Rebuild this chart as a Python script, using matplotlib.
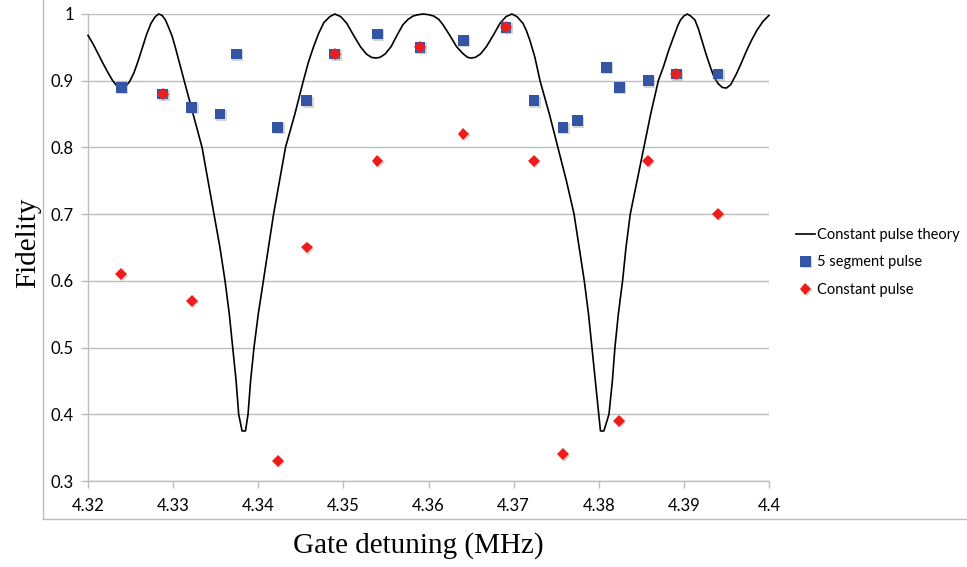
import matplotlib
matplotlib.use("Agg")
import matplotlib.pyplot as plt
import matplotlib.patheffects as pe
from matplotlib.lines import Line2D

# Theory curve for a constant pulse (detuning in MHz, fidelity)
theory_x = [4.3200, 4.3206, 4.3212, 4.3218, 4.3224, 4.3229, 4.3234, 4.3239,
            4.3244, 4.3249, 4.3254, 4.3259, 4.3264, 4.3269, 4.3274, 4.3279,
            4.3283, 4.3287, 4.3291, 4.3295, 4.3299, 4.3303, 4.3307, 4.3313,
            4.3318, 4.3326, 4.3334, 4.3341, 4.3348, 4.3355, 4.3361, 4.3366,
            4.3370, 4.3374, 4.3377, 4.3381, 4.3385, 4.3388, 4.3391, 4.3395,
            4.3400, 4.3406, 4.3412, 4.3418, 4.3425, 4.3432, 4.3443, 4.3453,
            4.3459, 4.3465, 4.3471, 4.3477, 4.3484, 4.3490, 4.3497, 4.3504,
            4.3512, 4.3520, 4.3527, 4.3533, 4.3538, 4.3543, 4.3549, 4.3556,
            4.3563, 4.3570, 4.3576, 4.3582, 4.3588, 4.3594, 4.3600, 4.3606,
            4.3612, 4.3617, 4.3625, 4.3633, 4.3641, 4.3646, 4.3650, 4.3655,
            4.3661, 4.3668, 4.3676, 4.3684, 4.3691, 4.3698, 4.3704, 4.3711,
            4.3715, 4.3719, 4.3725, 4.3731, 4.3742, 4.3752, 4.3762, 4.3771,
            4.3777, 4.3783, 4.3788, 4.3792, 4.3796, 4.3800, 4.3802, 4.3806,
            4.3812, 4.3816, 4.3819, 4.3823, 4.3828, 4.3832, 4.3837, 4.3845,
            4.3853, 4.3861, 4.3870, 4.3876, 4.3882, 4.3888, 4.3893, 4.3896,
            4.3900, 4.3904, 4.3908, 4.3913, 4.3917, 4.3921, 4.3926, 4.3931,
            4.3935, 4.3940, 4.3945, 4.3950, 4.3955, 4.3962, 4.3968, 4.3974,
            4.3980, 4.3986, 4.3993, 4.4000]
theory_y = [0.968, 0.955, 0.940, 0.925, 0.911, 0.900, 0.892, 0.889,
            0.891, 0.899, 0.912, 0.930, 0.950, 0.970, 0.986, 0.996,
            1.000, 0.998, 0.991, 0.979, 0.966, 0.948, 0.929, 0.900,
            0.876, 0.838, 0.800, 0.750, 0.700, 0.650, 0.600, 0.550,
            0.500, 0.450, 0.400, 0.375, 0.375, 0.400, 0.450, 0.500,
            0.550, 0.600, 0.650, 0.700, 0.750, 0.800, 0.850, 0.900,
            0.928, 0.951, 0.971, 0.987, 0.996, 1.000, 0.996, 0.986,
            0.968, 0.951, 0.940, 0.935, 0.934, 0.935, 0.940, 0.951,
            0.968, 0.984, 0.992, 0.997, 0.999, 1.000, 0.999, 0.997,
            0.992, 0.984, 0.968, 0.951, 0.940, 0.935, 0.934, 0.935,
            0.940, 0.951, 0.968, 0.986, 0.996, 1.000, 0.996, 0.986,
            0.975, 0.961, 0.935, 0.900, 0.850, 0.800, 0.750, 0.700,
            0.650, 0.600, 0.550, 0.500, 0.450, 0.400, 0.375, 0.375,
            0.400, 0.450, 0.500, 0.550, 0.600, 0.650, 0.700, 0.750,
            0.800, 0.850, 0.900, 0.921, 0.945, 0.966, 0.983, 0.991,
            0.997, 1.000, 0.997, 0.991, 0.978, 0.961, 0.940, 0.921,
            0.907, 0.896, 0.890, 0.889, 0.894, 0.911, 0.928, 0.946,
            0.962, 0.976, 0.989, 0.998]

# Measured fidelities with the 5 segment pulse
seg_x = [4.3239, 4.3288, 4.3322, 4.3355, 4.3374, 4.3423, 4.3457, 4.3490,
         4.3540, 4.3590, 4.3641, 4.3691, 4.3724, 4.3758, 4.3775, 4.3809,
         4.3824, 4.3858, 4.3891, 4.3940]
seg_y = [0.89, 0.88, 0.86, 0.85, 0.94, 0.83, 0.87, 0.94,
         0.97, 0.95, 0.96, 0.98, 0.87, 0.83, 0.84, 0.92,
         0.89, 0.90, 0.91, 0.91]

# Measured fidelities with the constant pulse
const_x = [4.3239, 4.3288, 4.3322, 4.3423, 4.3457, 4.3490, 4.3540, 4.3590,
           4.3641, 4.3691, 4.3724, 4.3758, 4.3824, 4.3858, 4.3891, 4.3940]
const_y = [0.61, 0.88, 0.57, 0.33, 0.65, 0.94, 0.78, 0.95,
           0.82, 0.98, 0.78, 0.34, 0.39, 0.78, 0.91, 0.70]

x_ticks = [4.32, 4.33, 4.34, 4.35, 4.36, 4.37, 4.38, 4.39, 4.40]
x_tick_labels = ["4.32", "4.33", "4.34", "4.35", "4.36", "4.37", "4.38", "4.39", "4.4"]
y_ticks = [0.3, 0.4, 0.5, 0.6, 0.7, 0.8, 0.9, 1.0]
y_tick_labels = ["0.3", "0.4", "0.5", "0.6", "0.7", "0.8", "0.9", "1"]

W, H = 967, 567
fig = plt.figure(figsize=(W / 100, H / 100), dpi=100)
ax = fig.add_axes([88 / W, 1 - 481 / H, (769 - 88) / W, (481 - 14) / H])

grid_col = "#bdbdbd"
sans = ["Lato", "DejaVu Sans"]
serif = ["Liberation Serif", "DejaVu Serif"]

ax.set_xlim(4.32, 4.40)
ax.set_ylim(0.3, 1.0)
ax.set_yticks(y_ticks)
ax.set_yticklabels(y_tick_labels, fontfamily=sans, fontsize=12)
ax.set_xticks(x_ticks)
ax.set_xticklabels(x_tick_labels, fontfamily=sans, fontsize=12)
ax.minorticks_off()
ax.tick_params(axis="both", length=5, width=1, color=grid_col, labelcolor="black")
ax.tick_params(axis="y", pad=5)
ax.tick_params(axis="x", pad=7)
ax.grid(axis="y", color=grid_col, linewidth=1)
ax.set_axisbelow(True)
for side in ("top", "right"):
    ax.spines[side].set_visible(False)
for side in ("left", "bottom"):
    ax.spines[side].set_color(grid_col)
    ax.spines[side].set_linewidth(1)

shadow = [pe.SimplePatchShadow(offset=(1, -1), shadow_rgbFace="#888888", alpha=0.35), pe.Normal()]

theory_line, = ax.plot(theory_x, theory_y, color="black", linewidth=1.2, zorder=3,
                       clip_on=False)
seg_pts, = ax.plot(seg_x, seg_y, linestyle="none", marker="s", markersize=7.8,
                   color="#3454a4", markeredgewidth=0, zorder=4, path_effects=shadow)
const_pts, = ax.plot(const_x, const_y, linestyle="none", marker="D", markersize=6,
                     color="#f01c1c", markeredgewidth=0, zorder=5, path_effects=shadow)

# Axis titles
fig.text(418 / W, 1 - 546 / H, "Gate detuning (MHz)", fontfamily=serif, fontsize=21,
         ha="center", va="center")
fig.text(28 / W, 1 - 243 / H, "Fidelity", fontfamily=serif, fontsize=21,
         ha="center", va="center", rotation=90)

leg = fig.legend([theory_line, seg_pts, const_pts],
                 ["Constant pulse theory", "5 segment pulse", "Constant pulse"],
                 loc="upper left", bbox_to_anchor=(796 / W, 1 - 228 / H),
                 frameon=False, prop={"family": sans, "size": 10.5},
                 handlelength=1.3, handletextpad=0.15, labelspacing=0.92,
                 borderaxespad=0, borderpad=0)

# Chart-area border on the left and bottom
fig.add_artist(Line2D([43 / W, 43 / W], [1 - 519 / H, 1.0], transform=fig.transFigure,
                      color=grid_col, linewidth=1))
fig.add_artist(Line2D([43 / W, 1.0], [1 - 519 / H, 1 - 519 / H], transform=fig.transFigure,
                      color=grid_col, linewidth=1))

fig.savefig("out.png", dpi=100, facecolor="white")
